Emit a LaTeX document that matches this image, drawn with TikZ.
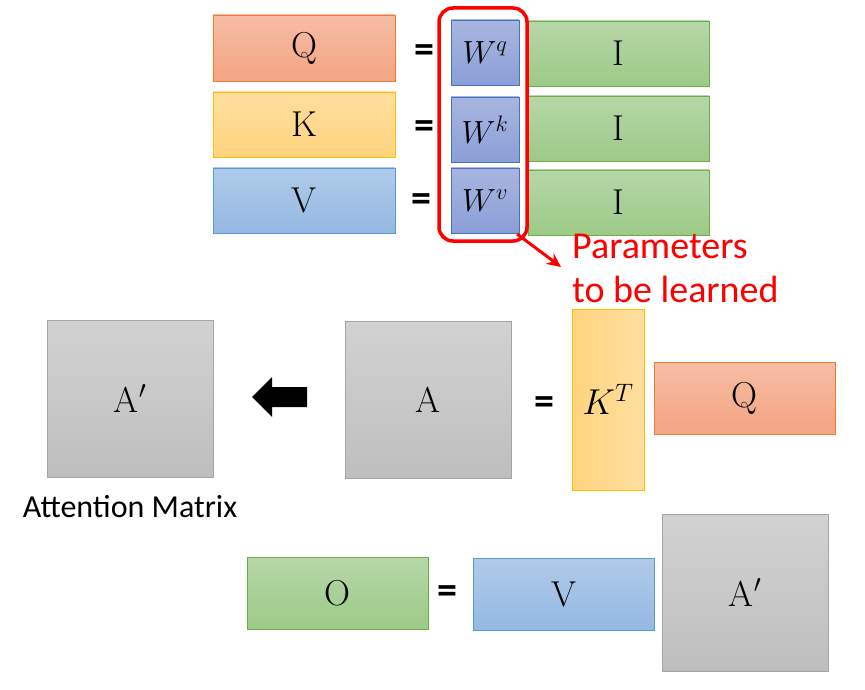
\documentclass[tikz,border=0pt]{standalone}
\usepackage{fix-cm}
\usepackage{fontspec}
\newfontfamily\calib{Carlito}
\usetikzlibrary{arrows.meta}
\definecolor{qtop}{HTML}{F6BDA5}
\definecolor{qbot}{HTML}{F4A482}
\definecolor{qline}{HTML}{ED7D31}
\definecolor{ktop}{HTML}{FFDE9F}
\definecolor{kbot}{HTML}{FFD47E}
\definecolor{kline}{HTML}{FFC000}
\definecolor{vtop}{HTML}{B0CBEA}
\definecolor{vbot}{HTML}{94B8E2}
\definecolor{vline}{HTML}{5B9BD5}
\definecolor{wtop}{HTML}{A9B5E0}
\definecolor{wbot}{HTML}{8A9FD8}
\definecolor{wline}{HTML}{4472C4}
\definecolor{gtop}{HTML}{B6D7A8}
\definecolor{gbot}{HTML}{9DCA87}
\definecolor{gline}{HTML}{70AD47}
\definecolor{atop}{HTML}{D2D2D2}
\definecolor{abot}{HTML}{BEBEBE}
\definecolor{aline}{HTML}{A5A5A5}
\tikzset{
  mbox/.style={draw, line width=0.9pt, inner sep=0pt, font=\fontsize{36}{40}\selectfont},
  qbox/.style={mbox, draw=qline, top color=qtop, bottom color=qbot},
  kbox/.style={mbox, draw=kline, top color=ktop, bottom color=kbot},
  vbox/.style={mbox, draw=vline, top color=vtop, bottom color=vbot},
  wbox/.style={mbox, draw=wline, top color=wtop, bottom color=wbot},
  ibox/.style={mbox, draw=gline, top color=gtop, bottom color=gbot},
  abox/.style={mbox, draw=aline, top color=atop, bottom color=abot},
  eqsign/.style={inner sep=0pt, font=\calib\bfseries\fontsize{40}{40}\selectfont},
  redtext/.style={text=red, align=left, inner sep=0pt, font=\calib\fontsize{38}{44}\selectfont},
}
\begin{document}
\begin{tikzpicture}[x=1pt, y=-1pt]
\useasboundingbox (0,0) rectangle (865,690);
% top rows
\node[qbox, minimum width=182pt, minimum height=66pt] (Q) at (304,48) {Q};
\node[kbox, minimum width=182pt, minimum height=65pt] (K) at (304,124.5) {K};
\node[vbox, minimum width=182pt, minimum height=65pt] (V) at (304,200.5) {V};
\node[eqsign] (e1) at (424,54) {=};
\node[eqsign] (e2) at (424,130) {=};
\node[eqsign] (e3) at (421,203) {=};
\node[wbox, minimum width=68pt, minimum height=65pt, font=\fontsize{32}{36}\selectfont] (Wq) at (485,52.5) {$W^q$};
\node[wbox, minimum width=68pt, minimum height=65pt, font=\fontsize{32}{36}\selectfont] (Wk) at (485,129.5) {$W^k$};
\node[wbox, minimum width=68pt, minimum height=65pt, font=\fontsize{32}{36}\selectfont] (Wv) at (485,200.5) {$W^v$};
\node[ibox, minimum width=181pt, minimum height=65pt] (I1) at (618.5,53.5) {I};
\node[ibox, minimum width=181pt, minimum height=65pt] (I2) at (618.5,128.5) {I};
\node[ibox, minimum width=181pt, minimum height=65pt] (I3) at (618.5,202.5) {I};
% red frame
\node[draw=red, line width=3.5pt, rounded corners=14pt, minimum width=88pt, minimum height=233pt, inner sep=0pt] (frame) at (483,124.5) {};
\coordinate (fr) at (517,234);
\coordinate (ptip) at (561,267);
\draw[red, line width=3pt, -{Stealth[length=14pt,width=13pt]}] (fr) -- (ptip);
\node[redtext, anchor=base west] (params) at (572,302) {Parameters\\to be learned};
% middle
\node[abox, minimum width=166pt, minimum height=157pt] (Ap) at (130,398.5) {A$'$};
\node[abox, minimum width=166pt, minimum height=157pt] (A) at (428,399.5) {A};
\fill (252,397) -- (272,377) -- (272,387) -- (307,387) -- (307,407) -- (272,407) -- (272,417) -- cycle;
\node[eqsign] (e4) at (544,406) {=};
\node[mbox, draw=kline, left color=kbot, right color=ktop, minimum width=72pt, minimum height=181pt] (KT) at (608,399.5) {$K^T$};
\node[qbox, minimum width=181pt, minimum height=72pt] (Q2) at (744.5,398) {Q};
\node[inner sep=0pt, font=\calib\fontsize{32}{36}\selectfont] (att) at (130,507) {Attention Matrix};
% bottom
\node[ibox, minimum width=181pt, minimum height=72pt] (O) at (337.5,593) {O};
\node[eqsign] (e5) at (447,595) {=};
\node[vbox, minimum width=181pt, minimum height=72pt] (V2) at (563.5,594) {V};
\node[abox, minimum width=166pt, minimum height=157pt] (Ap2) at (745,592.5) {A$'$};
\end{tikzpicture}
\end{document}
